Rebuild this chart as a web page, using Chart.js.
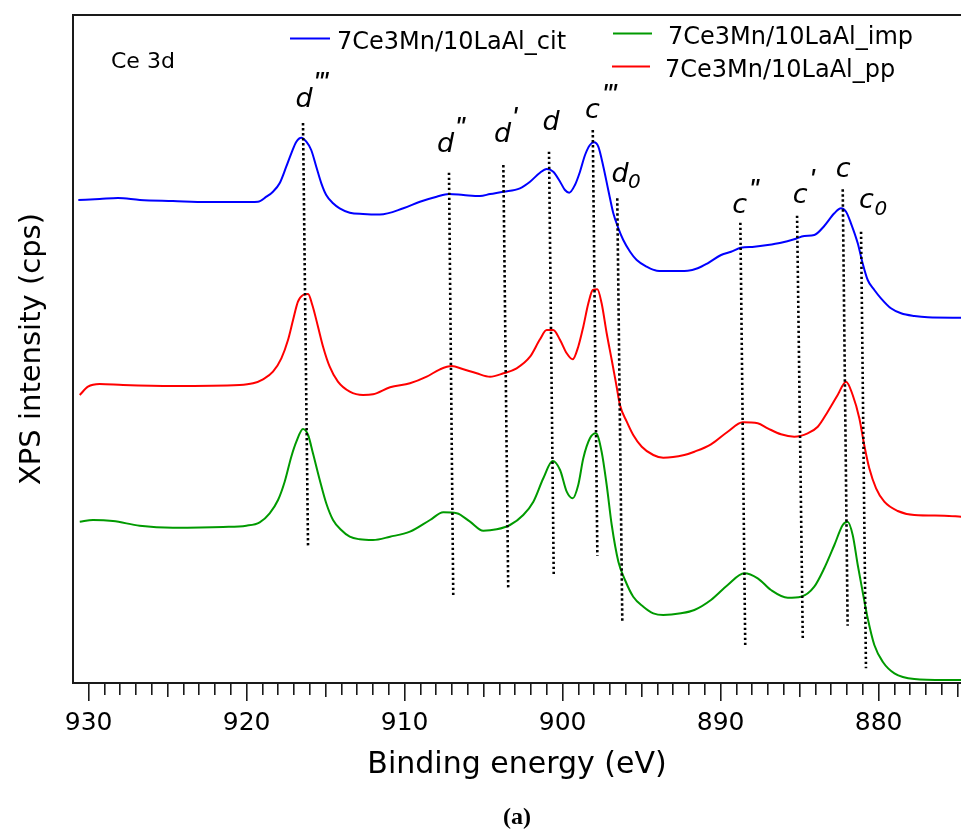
<!DOCTYPE html>
<html><head><meta charset="utf-8">
<script src="https://cdn.jsdelivr.net/npm/chart.js@4.4.0/dist/chart.umd.min.js"></script>
<style>html,body{margin:0;padding:0;background:#fff;overflow:hidden}canvas{display:block}</style>
</head><body>
<canvas id="c" width="961" height="833"></canvas>
<script>
// ---- data ----
const seriesNames = ['7Ce3Mn/10LaAl_cit', '7Ce3Mn/10LaAl_imp', '7Ce3Mn/10LaAl_pp'];
const seriesColors = ['#0000ff', '#009a00', '#ff0000'];
const regionLabel = 'Ce 3d';

const citEnergy = [930.65, 929.3, 928.14, 926.75, 924.66, 922.5, 920.4, 919.28, 918.75, 918.33, 917.91, 917.49, 917.17, 916.85, 916.54, 916.22, 915.91, 915.59, 915.27, 914.96, 914.53, 914.11, 913.47, 912.63, 911.56, 910.08, 909.03, 907.97, 907.19, 906.28, 905.23, 904.59, 903.75, 902.7, 902.06, 901.43, 901.01, 900.59, 900.16, 899.85, 899.58, 899.22, 898.9, 898.58, 898.27, 898.01, 897.74, 897.42, 897.11, 896.79, 896.47, 896.16, 895.73, 895.31, 894.68, 894.04, 893.2, 892.08, 891.45, 890.82, 889.97, 889.34, 888.71, 887.87, 887.02, 886.18, 885.34, 884.7, 884.07, 883.44, 882.8, 882.38, 882.06, 881.75, 881.32, 881.01, 880.69, 880.27, 879.85, 879.22, 878.58, 877.74, 876.89, 874.78];
const citIntensity = [483, 484, 485, 483, 482, 481, 481, 481.3, 486.3, 491.3, 499.7, 516.3, 529.7, 541.3, 545.3, 541.3, 533, 516.3, 499.7, 488, 479.7, 474.7, 470.3, 469, 468.5, 474.7, 481.3, 486.3, 489, 488, 487, 489, 491.3, 494.7, 501.3, 510.3, 514, 511.3, 501.3, 493, 490.3, 498, 511.3, 528, 538, 540.7, 536.3, 516.3, 493, 469.7, 454.7, 443, 431.3, 423, 416.3, 412.3, 412, 412.3, 414.7, 419.7, 428, 431.3, 435.3, 436.3, 438, 440.3, 443.7, 447, 448, 457, 469.7, 474.7, 471.3, 459.7, 439.7, 419.7, 403, 393, 384.7, 374.7, 369.7, 367, 365.7, 365.3];

const impEnergy = [930.56, 929.72, 928.46, 926.77, 924.66, 921.49, 920.02, 919.17, 918.54, 918.01, 917.59, 917.17, 916.85, 916.43, 916.11, 915.8, 915.37, 914.96, 914.53, 914.01, 913.47, 912.84, 912.0, 910.92, 909.66, 908.39, 907.55, 906.7, 905.86, 905.02, 904.17, 903.33, 902.49, 901.85, 901.22, 900.63, 900.16, 899.74, 899.36, 899.01, 898.69, 898.27, 897.89, 897.53, 897.21, 896.89, 896.47, 896.05, 895.53, 894.89, 894.26, 893.63, 892.51, 891.66, 890.61, 889.55, 888.5, 887.65, 886.81, 885.75, 884.91, 884.07, 883.44, 882.8, 882.27, 881.96, 881.64, 881.32, 881.01, 880.69, 880.27, 879.74, 879.0, 877.74, 875.84, 874.78];
const impIntensity = [161.3, 163, 162, 157.3, 155.3, 156, 157.3, 160.7, 169.7, 183, 201.3, 226.3, 241.3, 254, 248, 229.7, 203, 179.7, 163, 153, 146.3, 143.7, 143, 146.3, 151.3, 163, 170.7, 169.7, 161.3, 152.3, 153.7, 158, 168, 181.3, 204.7, 222, 213, 191.3, 184.7, 198, 224.7, 244.7, 249.7, 231.3, 198, 158, 121.3, 103, 86.3, 76.3, 69.7, 68, 69.7, 73, 83, 98, 109.7, 104.7, 93, 85.3, 86.3, 96.3, 114.7, 138, 158, 161.3, 148, 118, 91.3, 64.7, 38, 21.3, 9.7, 4, 3, 3];

const ppEnergy = [930.56, 930.04, 929.3, 927.82, 924.66, 920.44, 919.59, 918.96, 918.33, 917.8, 917.38, 917.06, 916.75, 916.43, 916.11, 915.84, 915.48, 915.16, 914.74, 914.22, 913.47, 912.63, 912.0, 910.92, 909.66, 908.6, 907.76, 907.02, 906.28, 905.44, 904.59, 903.75, 902.91, 902.06, 901.43, 901.01, 900.59, 900.16, 899.74, 899.36, 899.01, 898.69, 898.37, 898.09, 897.8, 897.53, 897.21, 896.89, 896.58, 896.37, 895.94, 895.53, 894.99, 894.26, 893.63, 892.3, 891.66, 890.61, 889.55, 888.6, 887.65, 887.02, 886.18, 885.34, 884.49, 883.85, 883.22, 882.59, 882.06, 881.64, 881.22, 880.91, 880.59, 880.16, 879.64, 878.79, 877.74, 875.84, 874.78];
const ppIntensity = [288, 296.3, 299, 298, 297, 298, 299.7, 303.7, 311.3, 324.7, 343, 363, 381.3, 388, 389, 378, 356.3, 336.3, 316.3, 301.3, 291.3, 288, 288.7, 295.7, 299.7, 306.3, 313.7, 317, 313.7, 309.7, 306.3, 309.7, 314.7, 326.3, 343.7, 353, 353, 343, 329.7, 323.7, 336.3, 356.3, 379.7, 393, 393.7, 379.7, 349.7, 323, 296.3, 278, 261.3, 248, 236.3, 228, 225.3, 228, 231.3, 238.7, 251.3, 260.7, 259.7, 254.7, 248.7, 246.3, 249.7, 256.3, 271.3, 288, 301.3, 288, 264.7, 238, 214.7, 194.7, 181.3, 172, 168, 167.3, 166.3];

const xMajorTicks = [930, 920, 910, 900, 890, 880];
const xMin = 874.785, xMax = 930.987;
const yMin = 0, yMax = 668;

// peak markers (Ce 3d components)
const peakLetters    = ['d', 'd', 'd', 'd', 'c', 'd', 'c', 'c', 'c', 'c'];
const peakPrimes     = ["'''", "''", "'", '', "'''", '', "''", "'", '', ''];
const peakSubscripts = ['', '', '', '', '', '0', '', '', '', '0'];
const labelEnergy    = [916.37, 907.41, 903.80, 900.73, 898.11, 896.37, 888.80, 884.97, 882.25, 880.77];
const labelIntensity = [576.3, 531.3, 541.3, 553, 564.7, 501.3, 470, 480, 506.3, 475];
const markerTopEnergy       = [916.43, 907.19, 903.75, 900.86, 898.09, 896.54, 888.75, 885.16, 882.27, 881.11];
const markerTopIntensity    = [560, 510.3, 518, 531.3, 553, 484.7, 460.3, 467.3, 493.7, 451.3];
const markerBottomEnergy    = [916.11, 906.92, 903.44, 900.56, 897.80, 896.22, 888.44, 884.80, 881.96, 880.80];
const markerBottomIntensity = [135, 86.3, 93, 106.3, 127.3, 59.7, 36.3, 44.7, 57.3, 14.7];

// ---- build ----
const FONT = '"DejaVu Sans", "Verdana", sans-serif';
const toPts = (xs, ys) => xs.map((v, i) => ({x: v, y: ys[i]}));
const spectra = [
  {E: citEnergy, I: citIntensity},
  {E: impEnergy, I: impIntensity},
  {E: ppEnergy, I: ppIntensity}
];
const datasets = spectra.map((s, i) => ({
  label: seriesNames[i],
  data: toPts(s.E, s.I),
  borderColor: seriesColors[i],
  backgroundColor: seriesColors[i],
  borderWidth: 2,
  pointRadius: 0,
  cubicInterpolationMode: 'monotone',
  fill: false,
  order: 1
}));
peakLetters.forEach((p, i) => {
  datasets.push({
    label: 'marker' + i,
    data: [{x: markerTopEnergy[i], y: markerTopIntensity[i]}, {x: markerBottomEnergy[i], y: markerBottomIntensity[i]}],
    borderColor: '#000',
    borderWidth: 2.6,
    borderDash: [2.4, 2.6],
    pointRadius: 0,
    fill: false,
    order: 0
  });
});

const AXIS = '#1a1a1a';

const overlayPlugin = {
  id: 'overlay',
  afterDatasetsDraw(chart) {
    const {ctx} = chart;
    const x = chart.scales.x, y = chart.scales.y;
    ctx.save();
    ctx.fillStyle = '#000';
    ctx.textBaseline = 'alphabetic';
    for (let i = 0; i < peakLetters.length; i++) {
      const px = x.getPixelForValue(labelEnergy[i]);
      const py = y.getPixelForValue(labelIntensity[i]);
      ctx.font = 'italic 27px ' + FONT;
      ctx.textAlign = 'center';
      ctx.fillText(peakLetters[i], px, py);
      if (peakPrimes[i]) {
        ctx.font = 'italic 30px "Liberation Sans", Arial, sans-serif';
        ctx.textAlign = 'left';
        ctx.letterSpacing = '-1px';
        ctx.fillText(peakPrimes[i], px + 9, py - 14.5);
        ctx.letterSpacing = '0px';
      }
      if (peakSubscripts[i]) {
        ctx.font = 'italic 20px ' + FONT;
        ctx.textAlign = 'left';
        ctx.fillText(peakSubscripts[i], px + 8, py + 6.5);
      }
    }
    // region label
    ctx.font = '22px ' + FONT;
    ctx.textAlign = 'left';
    ctx.fillText(regionLabel, 111, 68);
    // legend
    const legendPos = [
      {x0: 290, x1: 330, ly: 38.5, tx: 337, ty: 48.5},
      {x0: 613, x1: 652, ly: 33.5, tx: 668, ty: 43.5},
      {x0: 612, x1: 650, ly: 66.5, tx: 665, ty: 76.5}
    ];
    ctx.font = '24px ' + FONT;
    legendPos.forEach((p, i) => {
      ctx.strokeStyle = seriesColors[i];
      ctx.lineWidth = 2;
      ctx.beginPath(); ctx.moveTo(p.x0, p.ly); ctx.lineTo(p.x1, p.ly); ctx.stroke();
      ctx.fillStyle = '#000';
      ctx.fillText(seriesNames[i], p.tx, p.ty);
    });
    ctx.restore();
  }
};

const intTicks = (step, skip) => (scale) => {
  const t = [];
  for (let v = Math.ceil(xMin); v <= Math.floor(xMax); v++) {
    if (v % step === 0 && !(skip && v % skip === 0)) t.push({value: v});
  }
  scale.ticks = t;
};

new Chart(document.getElementById('c'), {
  type: 'line',
  data: {datasets},
  plugins: [overlayPlugin],
  options: {
    responsive: false,
    animation: false,
    devicePixelRatio: 1,
    layout: {padding: {top: 15, left: 0, right: 0, bottom: 0}},
    plugins: {
      legend: {display: false},
      tooltip: {enabled: false},
      title: {
        display: true, text: '(a)', position: 'bottom', fullSize: false,
        color: '#000', font: {family: '"Liberation Serif", "DejaVu Serif", serif', size: 24, weight: 'bold'},
        padding: {top: 0, bottom: 1}
      }
    },
    scales: {
      x: {
        type: 'linear', position: 'bottom', reverse: true, min: xMin, max: xMax, weight: 0,
        afterBuildTicks: (s) => { s.ticks = xMajorTicks.map(v => ({value: v})); },
        afterFit: (s) => { s.height = 120.2; },
        ticks: {color: '#000', font: {family: FONT, size: 25}, padding: 7, maxRotation: 0, autoSkip: false,
                callback: (v) => String(v)},
        grid: {drawOnChartArea: false, drawTicks: true, tickLength: 18, color: AXIS, lineWidth: 1.6},
        border: {display: true, color: AXIS, width: 2},
        title: {display: true, text: 'Binding energy (eV)', color: '#000', font: {family: FONT, size: 30}, padding: {top: 0, bottom: 20.2}}
      },
      xMid: {
        type: 'linear', position: 'bottom', reverse: true, min: xMin, max: xMax, weight: -1,
        afterBuildTicks: intTicks(5, 10),
        afterFit: (s) => { s.height = 0; },
        ticks: {display: false},
        grid: {drawOnChartArea: false, drawTicks: true, tickLength: 14, color: AXIS, lineWidth: 1.6},
        border: {display: false}
      },
      xMinor: {
        type: 'linear', position: 'bottom', reverse: true, min: xMin, max: xMax, weight: -2,
        afterBuildTicks: intTicks(1, 5),
        afterFit: (s) => { s.height = 0; },
        ticks: {display: false},
        grid: {drawOnChartArea: false, drawTicks: true, tickLength: 12, color: AXIS, lineWidth: 1.6},
        border: {display: false}
      },
      xTop: {
        type: 'linear', position: 'top', min: 0, max: 1,
        afterFit: (s) => { s.height = 0; },
        ticks: {display: false},
        grid: {display: false, drawTicks: false},
        border: {display: true, color: AXIS, width: 2}
      },
      y: {
        type: 'linear', position: 'left', min: yMin, max: yMax,
        afterFit: (s) => { s.width = 73; },
        ticks: {display: false},
        grid: {display: false, drawTicks: false},
        border: {display: true, color: AXIS, width: 2},
        title: {display: true, text: 'XPS intensity (cps)', color: '#000', font: {family: FONT, size: 29}, padding: {top: 15, bottom: 0}}
      }
    }
  }
});
</script>
</body></html>
